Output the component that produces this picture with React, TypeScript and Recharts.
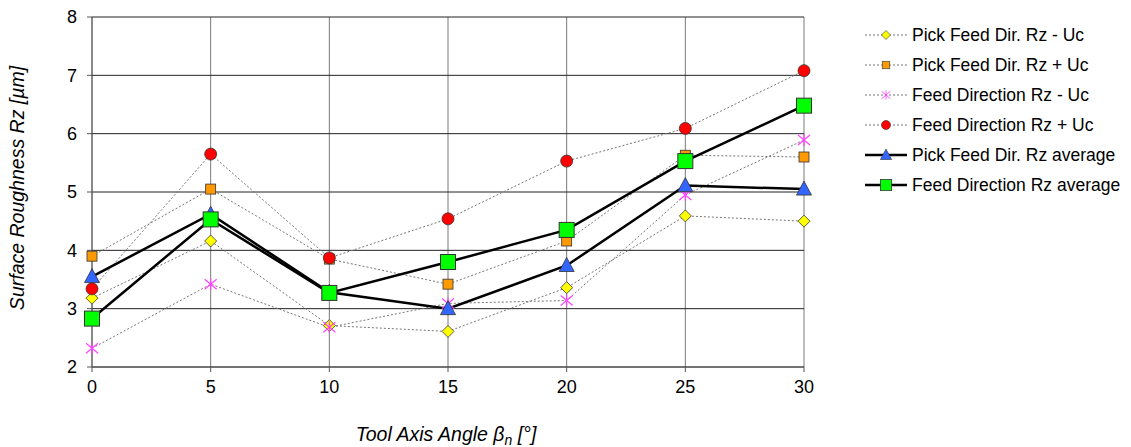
import React from 'react';
import {
  LineChart,
  Line,
  XAxis,
  YAxis,
  CartesianGrid,
  Legend,
} from 'recharts';

const ANGLES = [0, 5, 10, 15, 20, 25, 30];
const PICK_MINUS = [3.18, 4.16, 2.71, 2.61, 3.36, 4.59, 4.5];
const PICK_PLUS = [3.9, 5.05, 3.85, 3.42, 4.16, 5.63, 5.6];
const FEED_MINUS = [2.32, 3.42, 2.68, 3.09, 3.14, 4.95, 5.89];
const FEED_PLUS = [3.34, 5.65, 3.87, 4.54, 5.53, 6.09, 7.08];
const PICK_AVG = [3.55, 4.62, 3.28, 3.0, 3.74, 5.11, 5.05];
const FEED_AVG = [2.83, 4.53, 3.27, 3.8, 4.35, 5.53, 6.48];
const X_TICKS = [0, 5, 10, 15, 20, 25, 30];
const Y_TICKS = [2, 3, 4, 5, 6, 7, 8];

const data = ANGLES.map((a, i) => ({
  angle: a,
  pickMinus: PICK_MINUS[i],
  pickPlus: PICK_PLUS[i],
  feedMinus: FEED_MINUS[i],
  feedPlus: FEED_PLUS[i],
  pickAvg: PICK_AVG[i],
  feedAvg: FEED_AVG[i],
}));

type Shape = 'diamond' | 'square' | 'star' | 'circle' | 'triangle' | 'bigsquare';

function Marker({ shape, cx, cy }: { shape: Shape; cx: number; cy: number }) {
  const edge = '#333';
  switch (shape) {
    case 'diamond':
      return (
        <polygon
          points={`${cx},${cy - 6} ${cx + 6},${cy} ${cx},${cy + 6} ${cx - 6},${cy}`}
          fill="#FFFF00"
          stroke={edge}
          strokeWidth={0.8}
        />
      );
    case 'square':
      return <rect x={cx - 5} y={cy - 5} width={10} height={10} fill="#FF9900" stroke={edge} strokeWidth={0.8} />;
    case 'star':
      return (
        <g stroke="#FF44FF" strokeWidth={1.2}>
          <line x1={cx} y1={cy - 6} x2={cx} y2={cy + 6} />
          <line x1={cx - 6} y1={cy - 5} x2={cx + 6} y2={cy + 5} />
          <line x1={cx - 6} y1={cy + 5} x2={cx + 6} y2={cy - 5} />
        </g>
      );
    case 'circle':
      return <circle cx={cx} cy={cy} r={6} fill="#FF0000" stroke={edge} strokeWidth={0.8} />;
    case 'triangle':
      return (
        <polygon
          points={`${cx},${cy - 8} ${cx + 7.5},${cy + 6} ${cx - 7.5},${cy + 6}`}
          fill="#3366FF"
          stroke={edge}
          strokeWidth={0.8}
        />
      );
    default:
      return <rect x={cx - 7.5} y={cy - 7.5} width={15} height={15} fill="#00FF00" stroke={edge} strokeWidth={1} />;
  }
}

const dotFor = (shape: Shape) => (props: any) => (
  <g key={`${shape}-${props.index}`}>
    <Marker shape={shape} cx={props.cx} cy={props.cy} />
  </g>
);

const SERIES: { key: string; name: string; shape: Shape; solid: boolean }[] = [
  { key: 'pickMinus', name: 'Pick Feed Dir. Rz - Uc', shape: 'diamond', solid: false },
  { key: 'pickPlus', name: 'Pick Feed Dir. Rz + Uc', shape: 'square', solid: false },
  { key: 'feedMinus', name: 'Feed Direction Rz - Uc', shape: 'star', solid: false },
  { key: 'feedPlus', name: 'Feed Direction Rz + Uc', shape: 'circle', solid: false },
  { key: 'pickAvg', name: 'Pick Feed Dir. Rz average', shape: 'triangle', solid: true },
  { key: 'feedAvg', name: 'Feed Direction Rz average', shape: 'bigsquare', solid: true },
];

const FONT = '"Liberation Sans", Arial, sans-serif';

function LegendBox() {
  return (
    <div style={{ fontFamily: FONT, fontSize: 17.5, color: '#000' }}>
      {SERIES.map((s) => (
        <div key={s.key} style={{ display: 'flex', alignItems: 'center', height: 30 }}>
          <svg width={44} height={20} style={{ marginRight: 4 }}>
            <line
              x1={1}
              y1={10}
              x2={43}
              y2={10}
              stroke={s.solid ? '#000' : '#777'}
              strokeWidth={s.solid ? 2.5 : 1}
              strokeDasharray={s.solid ? undefined : '2 2'}
            />
            <g transform="translate(22,10) scale(0.75) translate(-22,-10)">
              <Marker shape={s.shape} cx={22} cy={10} />
            </g>
          </svg>
          <span>{s.name}</span>
        </div>
      ))}
    </div>
  );
}

export default function App() {
  return (
    <div style={{ position: 'absolute', left: 0, top: 0, width: 1131, height: 447, background: '#fff' }}>
      <LineChart
        width={1131}
        height={447}
        data={data}
        margin={{ top: 17, right: 327, bottom: 40, left: 32 }}
      >
        <CartesianGrid horizontal={false} stroke="#7a7a7a" strokeWidth={1} />
        <CartesianGrid vertical={false} stroke="#222" strokeWidth={1} />
        <XAxis
          dataKey="angle"
          type="number"
          domain={[0, 30]}
          ticks={X_TICKS}
          axisLine={{ stroke: '#555' }}
          tickLine={{ stroke: '#555' }}
          tickSize={5}
          height={40}
          tick={{ fill: '#000', fontSize: 18, fontFamily: FONT, dy: 6 }}
          label={{
            content: () => (
              <text x={446} y={441} textAnchor="middle" fontFamily={FONT} fontSize={19.5} fontStyle="italic" fill="#000">
                Tool Axis Angle β
                <tspan fontSize={14} dy={4}>n</tspan>
                <tspan dy={-4}> [°]</tspan>
              </text>
            ),
          }}
        />
        <YAxis
          type="number"
          domain={[2, 8]}
          ticks={Y_TICKS}
          width={60}
          axisLine={{ stroke: '#555' }}
          tickLine={{ stroke: '#555' }}
          tickSize={5}
          tick={{ fill: '#000', fontSize: 18, fontFamily: FONT, dx: -8 }}
          label={{
            content: () => (
              <text
                x={19}
                y={188}
                textAnchor="middle"
                dominantBaseline="middle"
                transform="rotate(-90, 19, 188)"
                fontFamily={FONT}
                fontSize={19.5}
                fontStyle="italic"
                fill="#000"
              >
                Surface Roughness Rz [µm]
              </text>
            ),
          }}
        />
        <Legend
          layout="horizontal"
          verticalAlign="middle"
          align="center"
          content={() => <LegendBox />}
          wrapperStyle={{ left: 864, top: 20, width: 267 }}
        />
        {SERIES.map((s) => (
          <Line
            key={s.key}
            dataKey={s.key}
            name={s.name}
            type="linear"
            stroke={s.solid ? '#000' : '#777'}
            strokeWidth={s.solid ? 2.5 : 1}
            strokeDasharray={s.solid ? undefined : '2 2'}
            dot={dotFor(s.shape)}
            activeDot={false}
            isAnimationActive={false}
          />
        ))}
      </LineChart>
    </div>
  );
}
